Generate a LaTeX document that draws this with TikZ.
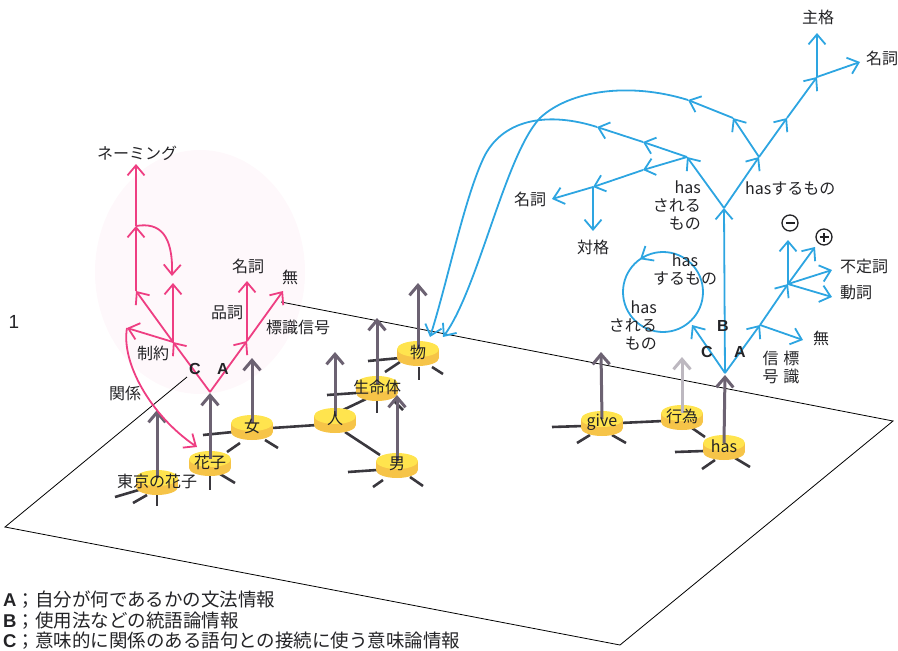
\documentclass[tikz,border=0pt]{standalone}
\usepackage{fontspec}
\setmainfont{Noto Sans CJK JP}
\newfontfamily\lsans{Liberation Sans}
\usetikzlibrary{arrows.meta}
\definecolor{pinkc}{RGB}{238,62,130}
\definecolor{bluec}{RGB}{45,165,225}
\definecolor{grayarr}{RGB}{108,98,114}
\definecolor{legc}{RGB}{58,56,62}
\definecolor{discT}{RGB}{255,228,78}
\definecolor{discS}{RGB}{246,196,72}
\definecolor{txtc}{RGB}{35,35,38}
\definecolor{pinkbg}{RGB}{254,248,251}
\tikzset{
 pk/.style={draw=pinkc, line width=1.8pt, -{Straight Barb[length=10pt,width=17pt]}},
 bl/.style={draw=bluec, line width=1.8pt, -{Straight Barb[length=10pt,width=17pt]}},
 blc/.style={draw=bluec, line width=1.8pt},
 ga/.style={draw=grayarr, line width=3pt, -{Straight Barb[length=10pt,width=17pt]}},
 leg/.style={draw=legc, line width=2.6pt},
 plane/.style={draw=black, line width=0.8pt},
 lab/.style={text=txtc, inner sep=0pt, font=\fontsize{16}{18}\selectfont},
 dlab/.style={text=txtc, inner sep=0pt, font=\fontsize{16}{16}\selectfont},
 abc/.style={text=txtc, inner sep=0pt, font=\lsans\bfseries\fontsize{16}{16}\selectfont},
 leglab/.style={text=txtc, inner sep=0pt, anchor=west, font=\fontsize{18.5}{20}\selectfont},
 sym/.style={circle, draw=txtc, line width=1.3pt, minimum size=16pt, inner sep=0pt},
}
\newcommand{\ydisc}[3]{%
 \fill[discS] (#2,#3+5) ellipse [x radius=21pt, y radius=8pt];
 \fill[discS] (#2-21,#3-4) rectangle (#2+21,#3+5);
 \fill[discT] (#2,#3-4) ellipse [x radius=21pt, y radius=8pt];
 \coordinate (#1) at (#2,#3-4);
}
\begin{document}
\begin{tikzpicture}[x=1pt,y=-1pt]
\useasboundingbox (0,0) rectangle (898,651);
% faint pink cloud
\fill[pinkbg] (200,272) ellipse [x radius=105pt, y radius=122pt];
% plane
\coordinate (pl1) at (5,527);
\coordinate (pl2) at (187,377);
\coordinate (pl3) at (281,302);
\coordinate (pl4) at (893,421);
\coordinate (pl5) at (620,645);
\draw[plane] (pl2) -- (pl1) -- (pl5) -- (pl4) -- (pl3);
\node[inner sep=0pt, text=txtc, font=\lsans\fontsize{19}{19}\selectfont] (one) at (14,322) {1};
% legs and links
\draw[leg] (115,497) -- (142,489);
\draw[leg] (133,503) -- (147,495);
\draw[leg] (157,493) -- (157,506);
\draw[leg] (210,473) -- (210,490);
\draw[leg] (220,474) -- (235,483);
\draw[leg] (227,452) -- (240,443);
\draw[leg] (203,435) -- (233,432);
\draw[leg] (265,440) -- (278,448);
\draw[leg] (272,428) -- (317,425);
\draw[leg] (343,410) -- (366,399);
\draw[leg] (345,432) -- (380,455);
\draw[leg] (327,395) -- (356,393);
\draw[leg] (377,400) -- (377,413);
\draw[leg] (393,400) -- (403,410);
\draw[leg] (385,372) -- (400,362);
\draw[leg] (368,361) -- (400,358);
\draw[leg] (419,367) -- (419,380);
\draw[leg] (432,367) -- (443,374);
\draw[leg] (348,472) -- (377,470);
\draw[leg] (373,487) -- (383,480);
\draw[leg] (410,477) -- (423,486);
\draw[leg] (552,427) -- (583,426);
\draw[leg] (577,443) -- (590,435);
\draw[leg] (612,435) -- (626,443);
\draw[leg] (620,423) -- (663,421);
\draw[leg] (692,428) -- (705,437);
\draw[leg] (675,452) -- (704,451);
\draw[leg] (702,469) -- (715,460);
\draw[leg] (735,458) -- (750,467);
% discs
\ydisc{d1}{157}{482}
\ydisc{d2}{210}{463}
\ydisc{d3}{252}{427}
\ydisc{d4}{335}{420}
\ydisc{d5}{377}{388}
\ydisc{d6}{418}{353}
\ydisc{d7}{397}{465}
\ydisc{d8}{602}{423}
\ydisc{d9}{682}{417}
\ydisc{d10}{724}{447}
% gray arrows
\coordinate (g1) at (157,410);
\coordinate (g2) at (210,393);
\coordinate (g3) at (252,358);
\coordinate (g4) at (335,352);
\coordinate (g5) at (377,318);
\coordinate (g6) at (418,283);
\coordinate (g7) at (397,395);
\coordinate (g8) at (601,352);
\coordinate (g9) at (682,357);
\coordinate (g10) at (725,375);
\draw[ga] (d1) -- (g1);
\draw[ga] (d2) -- (g2);
\draw[ga] (d3) -- (g3);
\draw[ga] (d4) -- (g4);
\draw[ga] (d5) -- (g5);
\draw[ga] (d6) -- (g6);
\draw[ga] (d7) -- (g7);
\draw[ga] (d8) -- (g8);
\draw[ga, draw=grayarr!45] (d9) -- (g9);
\draw[ga] (d10) -- (g10);
% disc labels
\node[dlab] (t1) at (157,481) {東京の花子};
\node[dlab] (t2) at (210,462) {花子};
\node[dlab] (t3) at (252,426) {女};
\node[dlab] (t4) at (335,419) {人};
\node[dlab] (t5) at (377,387) {生命体};
\node[dlab] (t6) at (418,352) {物};
\node[dlab] (t7) at (397,464) {男};
\node[dlab] (t8) at (602,422) {give};
\node[dlab] (t9) at (682,416) {行為};
\node[dlab] (t10) at (724,446) {has};
% ---------- pink tree ----------
\coordinate (p0) at (210,392);
\coordinate (pA) at (247,341);
\coordinate (pC) at (173,342);
\coordinate (pD) at (136,291);
\coordinate (pE) at (136,226);
\coordinate (pK) at (127,328);
\coordinate (pF) at (173,283);
\coordinate (pG) at (172,276);
\coordinate (pH) at (197,447);
\coordinate (pN) at (247,281);
\coordinate (pM) at (283,291);
\coordinate (pT) at (136,164);
\draw[pk] (p0) -- (pA);
\draw[pk] (p0) -- (pC);
\draw[pk] (pA) -- (pN);
\draw[pk] (pA) -- (pM);
\draw[pk] (pC) -- (pK);
\draw[pk] (pC) -- (pD);
\draw[pk] (pC) -- (pF);
\draw[pk] (pD) -- (pE);
\draw[pk] (pE) -- (pT);
\draw[pk] (pE) .. controls (160,222) and (173,235) .. (pG);
\draw[pk] (pK) .. controls (121,362) and (150,415) .. (pH);
\node[lab] (naming) at (137,153) {ネーミング};
\node[lab] (meishi1) at (248,266) {名詞};
\node[lab] (mu1) at (290,277) {無};
\node[lab] (hinshi) at (227,313) {品詞};
\node[lab] (hyoshiki) at (298,327) {標識信号};
\node[lab] (seiyaku) at (153,353) {制約};
\node[lab] (kankei) at (125,393) {関係};
\node[abc] (lc1) at (195,369) {C};
\node[abc] (la1) at (223,369) {A};
% ---------- blue tree ----------
\coordinate (b0) at (725,373);
\coordinate (bC) at (692,325);
\coordinate (bA) at (760,325);
\coordinate (bY) at (724,208);
\coordinate (bL) at (687,157);
\coordinate (bR) at (759,157);
\coordinate (bR1) at (733,118);
\coordinate (bR2) at (688,100);
\coordinate (bR3) at (787,118);
\coordinate (bT) at (817,77);
\coordinate (bS) at (817,33);
\coordinate (bN) at (860,62);
\coordinate (bL1) at (643,142);
\coordinate (bL2) at (597,127);
\coordinate (bL3) at (643,170);
\coordinate (bM) at (593,187);
\coordinate (bMN) at (552,199);
\coordinate (bMT) at (593,231);
\coordinate (bP) at (788,284);
\coordinate (bPm) at (788,240);
\coordinate (bPp) at (815,247);
\coordinate (bPf) at (832,270);
\coordinate (bPd) at (832,297);
\coordinate (bMu) at (803,340);
\coordinate (bo1) at (443,337);
\coordinate (bo2) at (430,337);
\coordinate (bX1) at (540,118);
\coordinate (bX2) at (485,155);
\draw[bl] (b0) -- (bC);
\draw[bl] (b0) -- (bA);
\draw[bl] (b0) -- (bY);
\draw[bl] (bY) -- (bL);
\draw[bl] (bY) -- (bR);
\draw[bl] (bR) -- (bR1);
\draw[bl] (bR1) -- (bR2);
\draw[bl] (bR) -- (bR3);
\draw[bl] (bR3) -- (bT);
\draw[bl] (bT) -- (bS);
\draw[bl] (bT) -- (bN);
\draw[bl] (bL) -- (bL1);
\draw[bl] (bL1) -- (bL2);
\draw[bl] (bL) -- (bL3);
\draw[bl] (bL3) -- (bM);
\draw[bl] (bM) -- (bMN);
\draw[bl] (bM) -- (bMT);
\draw[bl] (bA) -- (bMu);
\draw[bl] (bA) -- (bP);
\draw[bl] (bP) -- (bPm);
\draw[bl] (bP) -- (bPp);
\draw[bl] (bP) -- (bPf);
\draw[bl] (bP) -- (bPd);
\draw[bl] (bR2) .. controls (630,82) and (570,90) .. (bX1) .. controls (505,155) and (478,290) .. (bo1);
\draw[bl] (bL2) .. controls (550,112) and (505,118) .. (bX2) .. controls (465,195) and (448,280) .. (bo2);
% loop
\coordinate (cc) at (663,292);
\draw[blc] (cc) circle [radius=40pt];
\coordinate (cl1) at (644.2,256.7);
\coordinate (cl2) at (640.1,259.2);
\draw[bl] (cl1) -- (cl2);
% blue labels
\node[lab] (shukaku) at (818,17) {主格};
\node[lab, anchor=west] (meishi3) at (866,58) {名詞};
\node[lab, align=right, anchor=east] (hasl) at (701,205) {has\\される\\もの};
\node[lab, anchor=west] (hasr) at (745,189) {hasするもの};
\node[lab] (meishi2) at (530,199) {名詞};
\node[lab] (taikaku) at (593,247) {対格};
\node[lab, align=center] (hasc1) at (685,270) {has\\するもの};
\node[lab, align=right, anchor=east] (hasc2) at (657,325) {has\\される\\もの};
\node[abc] (lb2) at (723,326) {B};
\node[abc] (lc2) at (707,352) {C};
\node[abc] (la2) at (740,352) {A};
\node[lab] (mu2) at (821,338) {無};
\node[lab, align=center] (shingo) at (781,367) {信\hspace{5pt}標\\号\hspace{5pt}識};
\node[lab, anchor=west] (futeishi) at (840,266) {不定詞};
\node[lab, anchor=west] (doushi) at (840,293) {動詞};
\node[sym] (minus) at (790,223) {};
\draw[draw=txtc, line width=1.3pt] ([xshift=-4.5pt]minus.center) -- ([xshift=4.5pt]minus.center);
\node[sym] (plus) at (824,237) {};
\draw[draw=txtc, line width=1.3pt] ([xshift=-4.5pt]plus.center) -- ([xshift=4.5pt]plus.center);
\draw[draw=txtc, line width=1.3pt] ([yshift=-4.5pt]plus.center) -- ([yshift=4.5pt]plus.center);
% legend
\node[leglab] (legA) at (3,600) {{\lsans\bfseries A}；自分が何であるかの文法情報};
\node[leglab] (legB) at (3,621) {{\lsans\bfseries B}；使用法などの統語論情報};
\node[leglab] (legC) at (3,641) {{\lsans\bfseries C}；意味的に関係のある語句との接続に使う意味論情報};
\end{tikzpicture}
\end{document}
